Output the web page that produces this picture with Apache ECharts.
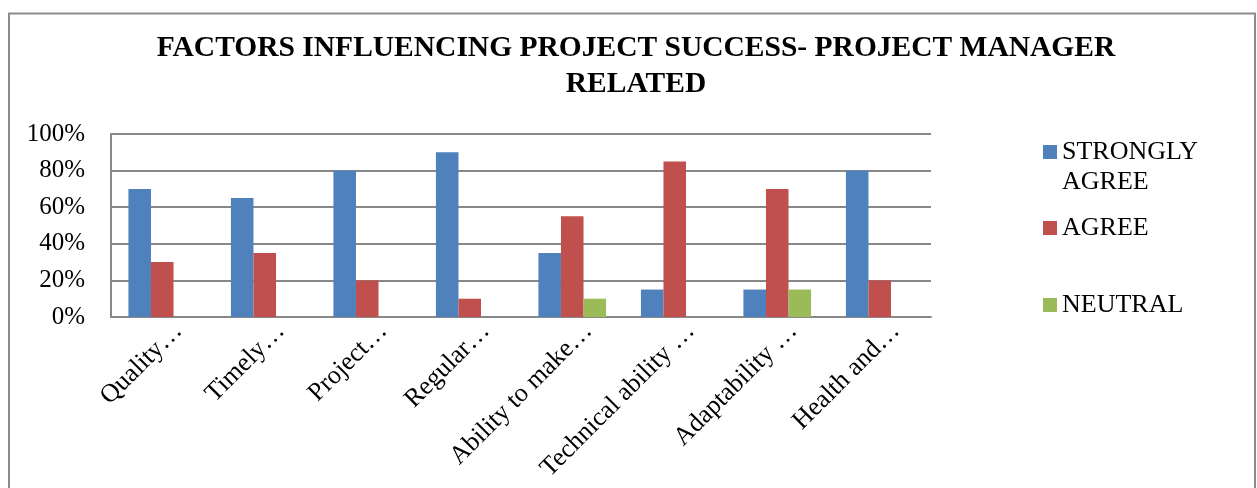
<!DOCTYPE html>
<html>
<head>
<meta charset="utf-8">
<script src="https://cdn.jsdelivr.net/npm/echarts@6/dist/echarts.min.js"></script>
<style>
html,body{margin:0;padding:0;background:#fff;}
#chart{width:1257px;height:488px;}
</style>
</head>
<body>
<div id="chart"></div>
<script>
const titleText = 'FACTORS INFLUENCING PROJECT SUCCESS- PROJECT MANAGER\nRELATED';
const categories = ['Quality…', 'Timely…', 'Project…', 'Regular…', 'Ability to make…', 'Technical ability …', 'Adaptability …', 'Health and…'];
const seriesNames = ['STRONGLY AGREE', 'AGREE', 'NEUTRAL'];
const stronglyAgree = [70, 65, 80, 90, 35, 15, 15, 80];
const agree = [30, 35, 20, 10, 55, 85, 70, 20];
const neutral = [0, 0, 0, 0, 10, 0, 15, 0];
const yTicks = [0, 20, 40, 60, 80, 100];
const colors = ['#4F81BD', '#C0504D', '#9BBB59'];

const FONT = 'Liberation Serif';
const chart = echarts.init(document.getElementById('chart'), null, {renderer: 'canvas'});

const gridTop = 134, gridBottom = 171, gridLeft = 111, gridRight = 326;
const labelShift = 16;

function legendFor(idx, top, fmt) {
  return {
    show: true,
    orient: 'vertical',
    left: 1043,
    top: top,
    padding: 0,
    itemWidth: 14,
    itemHeight: 14,
    icon: 'rect',
    selectedMode: false,
    data: [seriesNames[idx]],
    formatter: fmt || (n => n),
    textStyle: {fontFamily: FONT, fontSize: 26, color: '#000', lineHeight: 30}
  };
}

const option = {
  animation: false,
  backgroundColor: '#fff',
  color: colors,
  title: {
    text: titleText,
    left: 636,
    top: 30,
    padding: 0,
    textAlign: 'center',
    textStyle: {fontFamily: FONT, fontWeight: 'bold', fontSize: 29.5, lineHeight: 36, color: '#000'}
  },
  graphic: [{
    type: 'rect',
    shape: {x: 9, y: 13.5, width: 1246, height: 520},
    style: {fill: 'none', stroke: '#8c8c8c', lineWidth: 2},
    silent: true,
    z: -10
  }],
  legend: [
    legendFor(0, 107, () => '\nSTRONGLY\nAGREE'),
    legendFor(1, 213),
    legendFor(2, 290)
  ],
  grid: [
    {left: gridLeft, right: gridRight, top: gridTop, bottom: gridBottom},
    {left: gridLeft + labelShift, right: gridRight - labelShift, top: gridTop, bottom: gridBottom, show: false}
  ],
  xAxis: [
    {
      type: 'category', gridIndex: 0, data: categories,
      axisLine: {show: true, lineStyle: {color: '#888', width: 2}},
      axisTick: {show: false},
      axisLabel: {show: false}
    },
    {
      type: 'category', gridIndex: 1, data: categories,
      axisLine: {show: false},
      axisTick: {show: false},
      axisLabel: {show: true, interval: 0, rotate: 45, margin: 10, fontFamily: FONT, fontSize: 26, color: '#000'}
    }
  ],
  yAxis: [
    {
      type: 'value', gridIndex: 0, min: yTicks[0], max: yTicks[yTicks.length - 1], interval: 20,
      axisLine: {show: true, lineStyle: {color: '#888', width: 2}},
      axisTick: {show: false},
      splitLine: {show: true, lineStyle: {color: '#888', width: 2}},
      axisLabel: {formatter: '{value}%', margin: 26, fontFamily: FONT, fontSize: 25, color: '#000'}
    },
    {
      type: 'value', gridIndex: 1, min: 0, max: 100, show: false
    }
  ],
  series: [
    {name: seriesNames[0], type: 'bar', data: stronglyAgree, barGap: '0%', barCategoryGap: '34%', xAxisIndex: 0, yAxisIndex: 0},
    {name: seriesNames[1], type: 'bar', data: agree, barGap: '0%', barCategoryGap: '34%', xAxisIndex: 0, yAxisIndex: 0},
    {name: seriesNames[2], type: 'bar', data: neutral, barGap: '0%', barCategoryGap: '34%', xAxisIndex: 0, yAxisIndex: 0}
  ]
};
chart.setOption(option);
</script>
</body>
</html>
